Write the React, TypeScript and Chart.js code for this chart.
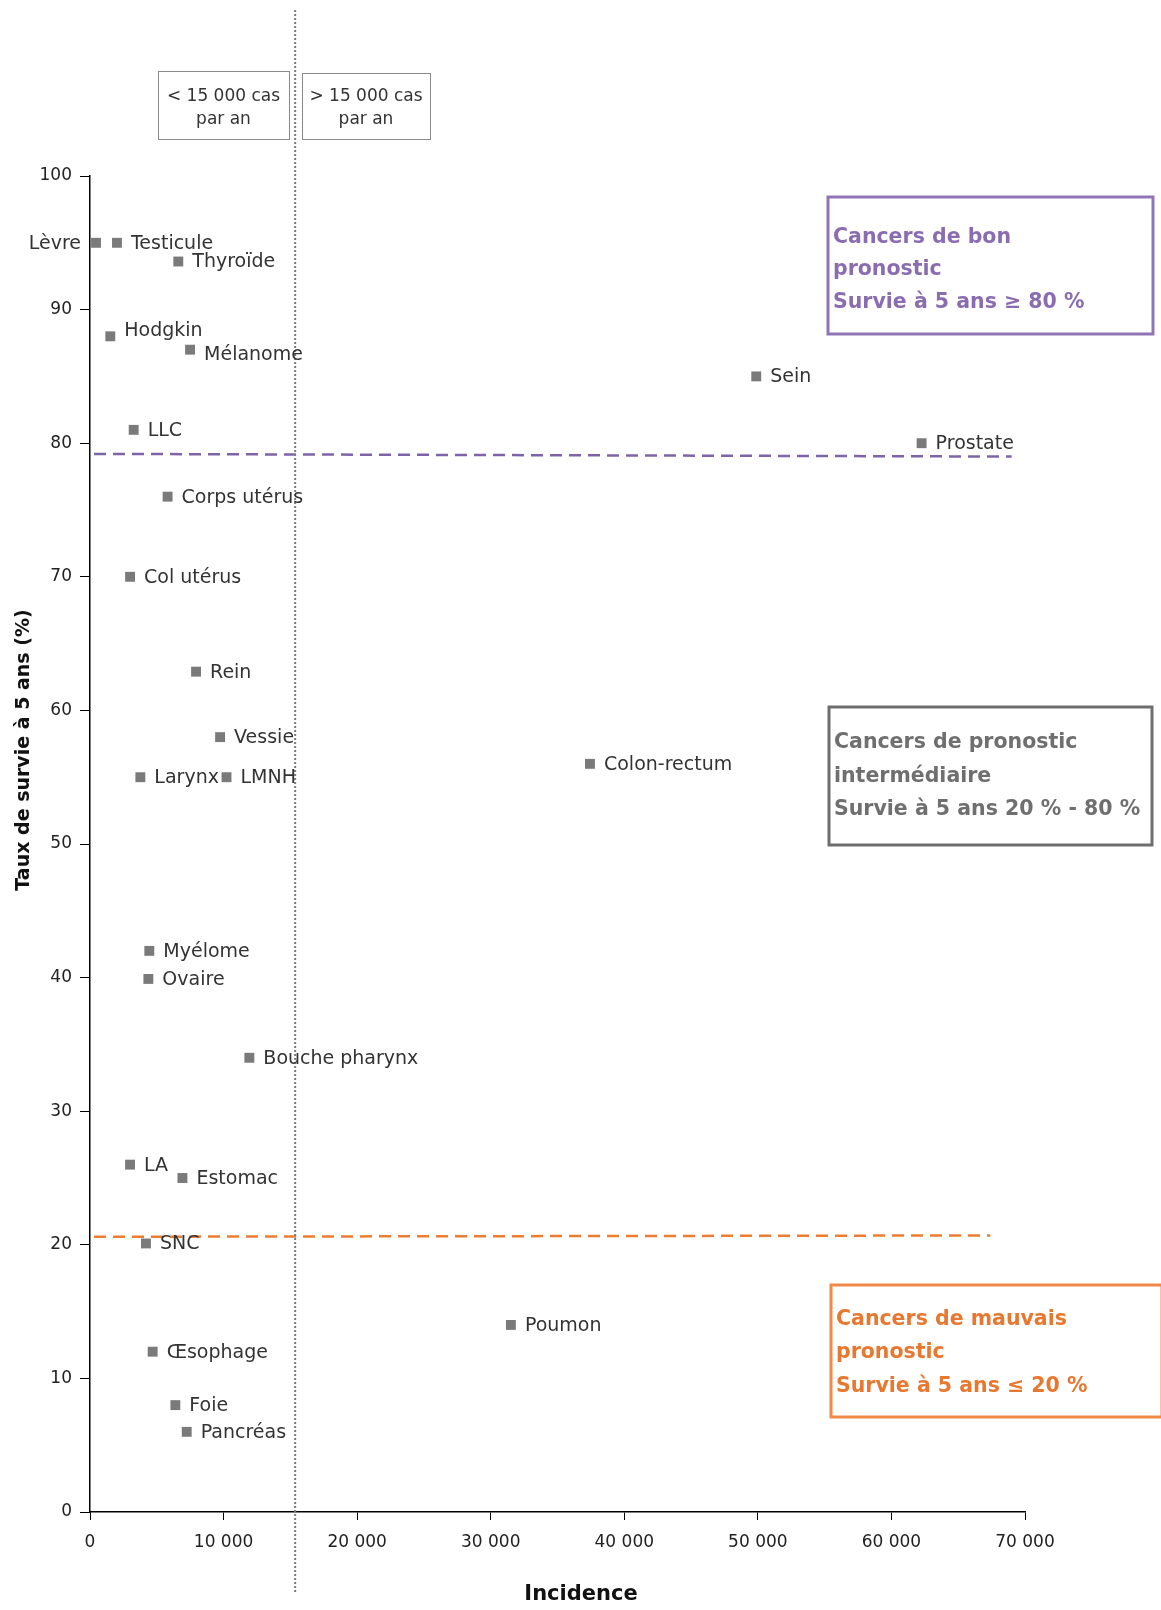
import React, { useEffect, useRef } from "react";
import { Chart, registerables } from "chart.js";

Chart.register(...registerables);

// ---- Data ----
const cancers = [
  "Lèvre", "Testicule", "Thyroïde", "Hodgkin", "Mélanome", "LLC", "Corps utérus",
  "Col utérus", "Rein", "Vessie", "Larynx", "LMNH", "Myélome", "Ovaire",
  "Bouche pharynx", "LA", "Estomac", "SNC", "Œsophage", "Foie", "Pancréas",
  "Sein", "Prostate", "Colon-rectum", "Poumon",
];
const incidence = [
  450, 2020, 6610, 1520, 7490, 3270, 5810,
  3000, 7940, 9740, 3770, 10220, 4440, 4370,
  11930, 3000, 6920, 4190, 4690, 6390, 7240,
  49880, 62260, 37430, 31510,
];
const survival = [
  95, 95, 93.6, 88, 87, 81, 76,
  70, 62.9, 58, 55, 55, 42, 39.9,
  34, 26, 25, 20.1, 12, 8, 6,
  85, 80, 56, 14,
];
const labelsOnLeft = ["Lèvre"];
const xTickValues = [0, 10000, 20000, 30000, 40000, 50000, 60000, 70000];
const yTickValues = [0, 10, 20, 30, 40, 50, 60, 70, 80, 90, 100];
const goodThreshold = 79.2;
const poorThreshold = 20.6;
const incidenceThreshold = 15360;
const goodLineEnd = 69000;
const poorLineEnd = 67400;
const lineStart = 300;

const xTitle = "Incidence";
const yTitle = "Taux de survie à 5 ans (%)";
const topBoxes = [
  ["< 15 000 cas", "par an"],
  ["> 15 000 cas", "par an"],
];
const categoryBoxes = [
  { lines: ["Cancers de bon", "pronostic", "Survie à 5 ans ≥ 80 %"], color: "#8a6db0", border: "#8f75b4" },
  { lines: ["Cancers de pronostic", "intermédiaire", "Survie à 5 ans 20 % - 80 %"], color: "#6f6f6f", border: "#6e6e6e" },
  { lines: ["Cancers de mauvais", "pronostic", "Survie à 5 ans ≤ 20 %"], color: "#e8782f", border: "#f08a48" },
];

const FONT = "'DejaVu Sans', sans-serif";
const labelNudge: Record<string, number> = { Hodgkin: -6, "Mélanome": 4 };

function fmt(v: number): string {
  return String(v).replace(/\B(?=(\d{3})+(?!\d))/g, " ");
}

export default function App() {
  const ref = useRef<HTMLCanvasElement | null>(null);

  useEffect(() => {
    document.body.style.margin = "0";
    const canvas = ref.current;
    if (!canvas) return;

    const overlay = {
      id: "overlay",
      beforeDatasetsDraw(chart: any) {
        const ctx = chart.ctx as CanvasRenderingContext2D;
        const xs = chart.scales.x;
        const ys = chart.scales.y;
        ctx.save();
        ctx.lineWidth = 2.5;
        ctx.setLineDash([12, 7]);
        ctx.strokeStyle = "#7d64a9";
        ctx.beginPath();
        ctx.moveTo(xs.getPixelForValue(lineStart), ys.getPixelForValue(goodThreshold));
        ctx.lineTo(xs.getPixelForValue(goodLineEnd), ys.getPixelForValue(goodThreshold - 0.2));
        ctx.stroke();
        ctx.strokeStyle = "#ec7d31";
        ctx.beginPath();
        ctx.moveTo(xs.getPixelForValue(lineStart), ys.getPixelForValue(poorThreshold));
        ctx.lineTo(xs.getPixelForValue(poorLineEnd), ys.getPixelForValue(poorThreshold + 0.1));
        ctx.stroke();
        const vx = xs.getPixelForValue(incidenceThreshold);
        ctx.strokeStyle = "#7a7a7a";
        ctx.lineWidth = 2;
        ctx.setLineDash([2, 2]);
        ctx.beginPath();
        ctx.moveTo(vx, 10);
        ctx.lineTo(vx, 1593);
        ctx.stroke();
        ctx.restore();
      },
      afterDatasetsDraw(chart: any) {
        const ctx = chart.ctx as CanvasRenderingContext2D;
        const xs = chart.scales.x;
        const ys = chart.scales.y;
        const area = chart.chartArea;
        ctx.save();
        ctx.font = `19px ${FONT}`;
        ctx.fillStyle = "#333333";
        ctx.textBaseline = "middle";
        cancers.forEach((name, i) => {
          const px = xs.getPixelForValue(incidence[i]);
          const py = ys.getPixelForValue(survival[i]) + 1 + (labelNudge[name] || 0);
          if (labelsOnLeft.includes(name)) {
            ctx.textAlign = "right";
            ctx.fillText(name, px - 15, py);
          } else {
            ctx.textAlign = "left";
            ctx.fillText(name, px + 14, py);
          }
        });

        ctx.fillStyle = "#111111";
        ctx.font = `bold 21px ${FONT}`;
        ctx.textAlign = "center";
        ctx.fillText(xTitle, area.left + 491, 1595);
        ctx.save();
        ctx.translate(24, 750);
        ctx.rotate(-Math.PI / 2);
        ctx.font = `bold 19px ${FONT}`;
        ctx.fillText(yTitle, 0, 0);
        ctx.restore();

        const tb = [
          { x: 158, y: 71, w: 131, h: 68 },
          { x: 302, y: 73, w: 128, h: 66 },
        ];
        ctx.font = `17px ${FONT}`;
        ctx.lineWidth = 1;
        ctx.strokeStyle = "#8a8a8a";
        ctx.fillStyle = "#333333";
        topBoxes.forEach((lines, i) => {
          const b = tb[i];
          ctx.strokeRect(b.x + 0.5, b.y + 0.5, b.w, b.h);
          ctx.textAlign = "center";
          ctx.fillText(lines[0], b.x + b.w / 2, 97);
          ctx.fillText(lines[1], b.x + b.w / 2, 120);
        });

        const cb = [
          { x: 828, y: 197, w: 325, h: 137, ty: [238, 270, 303] },
          { x: 829, y: 707, w: 323, h: 138, ty: [743, 777, 810] },
          { x: 831, y: 1285, w: 331, h: 132, ty: [1320, 1353, 1387] },
        ];
        categoryBoxes.forEach((box, i) => {
          const b = cb[i];
          ctx.lineWidth = 3;
          ctx.strokeStyle = box.border;
          ctx.strokeRect(b.x, b.y, b.w, b.h);
          ctx.fillStyle = box.color;
          ctx.font = `bold 20.5px ${FONT}`;
          ctx.textAlign = "left";
          box.lines.forEach((t, j) => ctx.fillText(t, b.x + 5, b.ty[j]));
        });
        ctx.restore();
      },
    };

    const chart = new Chart(canvas, {
      type: "scatter",
      data: {
        datasets: [
          {
            label: "Cancers",
            data: cancers.map((_, i) => ({ x: incidence[i], y: survival[i] })),
            pointStyle: "rect",
            pointRadius: 7,
            pointHoverRadius: 7,
            pointBorderWidth: 0,
            backgroundColor: "#7a7a7a",
            borderColor: "#7a7a7a",
          },
        ],
      },
      options: {
        responsive: false,
        animation: false,
        events: [],
        layout: { padding: { top: 176, right: 136, left: 0, bottom: 0 } },
        plugins: {
          legend: { display: false },
          tooltip: { enabled: false },
          title: { display: false },
        },
        scales: {
          x: {
            type: "linear",
            min: 0,
            max: 70000,
            afterBuildTicks: (scale: any) => {
              scale.ticks = xTickValues.map((v) => ({ value: v }));
            },
            afterFit: (scale: any) => {
              scale.height = 98;
            },
            ticks: {
              callback: (v: any) => fmt(Number(v)),
              font: { family: FONT, size: 17 },
              color: "#222222",
              padding: 12,
              maxRotation: 0,
            },
            grid: {
              display: true,
              drawOnChartArea: false,
              drawTicks: true,
              tickLength: 8,
              color: "#000000",
              lineWidth: 1,
            },
            border: { display: true, color: "#000000", width: 1.5 },
          },
          y: {
            type: "linear",
            min: 0,
            max: 100,
            afterBuildTicks: (scale: any) => {
              scale.ticks = yTickValues.map((v) => ({ value: v }));
            },
            afterFit: (scale: any) => {
              scale.width = 90;
            },
            ticks: {
              font: { family: FONT, size: 17 },
              color: "#222222",
              padding: 8,
            },
            grid: {
              display: true,
              drawOnChartArea: false,
              drawTicks: true,
              tickLength: 10,
              color: "#000000",
              lineWidth: 1,
            },
            border: { display: true, color: "#000000", width: 1.5 },
          },
        },
      },
      plugins: [overlay],
    });

    return () => {
      chart.destroy();
    };
  }, []);

  return (
    <div style={{ width: 1161, height: 1610, background: "#ffffff" }}>
      <canvas ref={ref} width={1161} height={1610} style={{ display: "block" }} />
    </div>
  );
}
